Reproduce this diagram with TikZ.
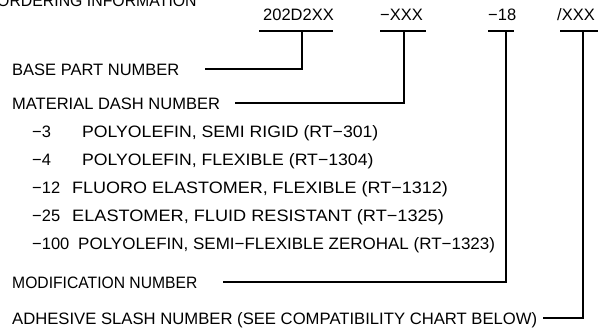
\documentclass[tikz,border=0pt]{standalone}
\usepackage{fontspec}
\setmainfont{Liberation Sans}
\begin{document}
\begin{tikzpicture}[x=1pt,y=-1pt,
  txt/.style={inner sep=0pt, anchor=base west, font=\fontsize{16.5}{18}\selectfont},
  ln/.style={line width=1.1pt, black}]
\useasboundingbox (0,0) rectangle (599,330);
% title
\node[txt] (title) at (-3,6) {\scalebox{0.96}[1]{ORDERING INFORMATION}};
% part number segments
\node[txt] (pn1) at (263,20) {202D2XX};
\node[txt] (pn2) at (380,20) {−XXX};
\node[txt] (pn3) at (488,20) {−18};
\node[txt] (pn4) at (557,20) {/XXX};
% underlines
\coordinate (u1a) at (259,31); \coordinate (u1b) at (333,31); \coordinate (j1) at (302,31);
\coordinate (u2a) at (380,31); \coordinate (u2b) at (426,31); \coordinate (j2) at (404,31);
\coordinate (u3a) at (488,31); \coordinate (u3b) at (514,31); \coordinate (j3) at (506,31);
\coordinate (u4a) at (560,31); \coordinate (u4b) at (598,31); \coordinate (j4) at (583,31);
\draw[ln] (u1a) -- (u1b);
\draw[ln] (u2a) -- (u2b);
\draw[ln] (u3a) -- (u3b);
\draw[ln] (u4a) -- (u4b);
% labels
\node[txt] (base) at (12,75) {BASE PART NUMBER};
\node[txt] (mat) at (12,109) {MATERIAL DASH NUMBER};
\node[txt] (d3) at (32,137) {−3};
\node[txt] (t3) at (82,137) {\scalebox{1.07}[1]{POLYOLEFIN, SEMI RIGID (RT−301)}};
\node[txt] (d4) at (32,165) {−4};
\node[txt] (t4) at (82,165) {\scalebox{1.07}[1]{POLYOLEFIN, FLEXIBLE (RT−1304)}};
\node[txt] (d12) at (32,193) {−12};
\node[txt] (t12) at (72,193) {\scalebox{1.09}[1]{FLUORO ELASTOMER, FLEXIBLE (RT−1312)}};
\node[txt] (d25) at (32,221) {−25};
\node[txt] (t25) at (72,221) {\scalebox{1.1}[1]{ELASTOMER, FLUID RESISTANT (RT−1325)}};
\node[txt] (d100) at (32,249) {−100};
\node[txt] (t100) at (78,249) {\scalebox{1.03}[1]{POLYOLEFIN, SEMI−FLEXIBLE ZEROHAL (RT−1323)}};
\node[txt] (mod) at (12,288) {\scalebox{0.95}[1]{MODIFICATION NUMBER}};
\node[txt] (adh) at (12,324) {\scalebox{1.01}[1]{ADHESIVE SLASH NUMBER (SEE COMPATIBILITY CHART BELOW)}};
% connector start points
\coordinate (s1) at (205,69);
\coordinate (s2) at (235,103);
\coordinate (s3) at (223,282);
\coordinate (s4) at (543,318);
\draw[ln] (s1) -| (j1);
\draw[ln] (s2) -| (j2);
\draw[ln] (s3) -| (j3);
\draw[ln] (s4) -| (j4);
\end{tikzpicture}
\end{document}
